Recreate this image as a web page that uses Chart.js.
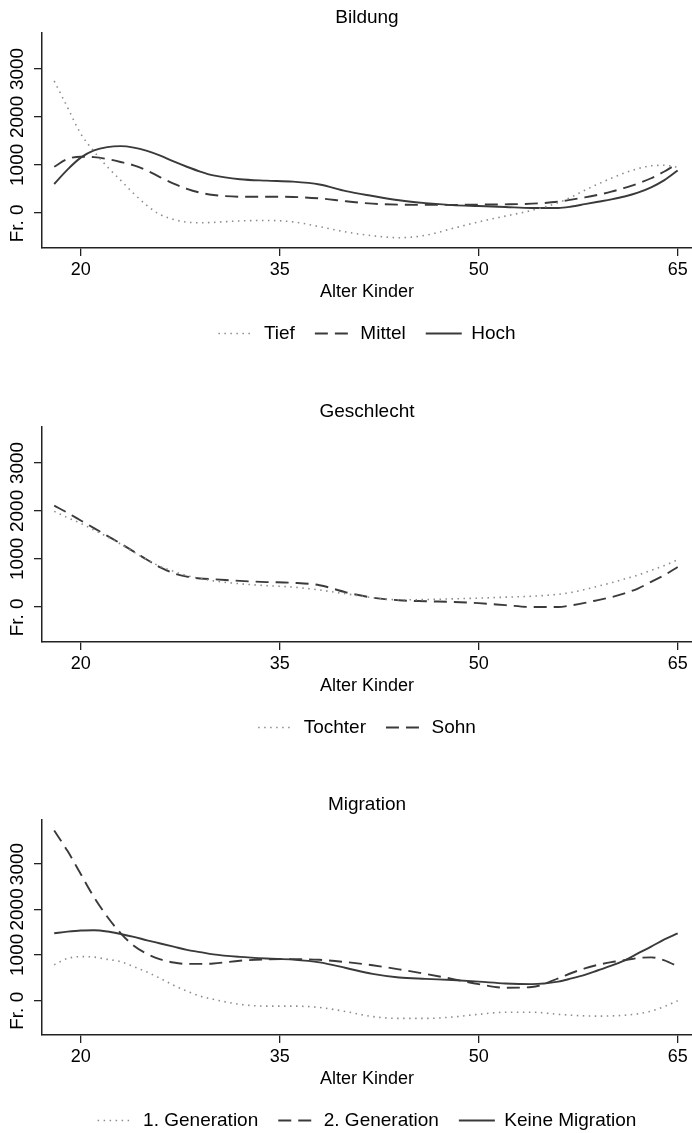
<!DOCTYPE html>
<html>
<head>
<meta charset="utf-8">
<script src="https://cdn.jsdelivr.net/npm/chart.js@4.4.1/dist/chart.umd.min.js"></script>
<style>
  html, body { margin: 0; padding: 0; background: #fff; overflow: hidden; }
  .panel { position: absolute; left: 0; width: 692px; height: 360px; }
</style>
</head>
<body>
<div class="panel" style="top:0px"><canvas id="chartBildung"></canvas></div>
<div class="panel" style="top:394px"><canvas id="chartGeschlecht"></canvas></div>
<div class="panel" style="top:787px"><canvas id="chartMigration"></canvas></div>
<script>
// === DATA ===
var ages = [18, 19, 20, 21, 22, 23, 24, 25, 26, 27, 28, 29, 30, 32, 34, 36, 38, 40, 42, 44, 46, 48,
            50, 52, 54, 56, 57, 58, 59, 60, 61, 62, 63, 64, 65];

var xTickValues = [20, 35, 50, 65];
var yTickValues = [0, 1000, 2000, 3000];
// the "Fr. 0" label sits with its "0" on the tick, hence the trailing spaces
var yTickLabels = ['Fr. 0    ', '1000', '2000', '3000'];

// Bildung
var tief =   [2750, 2200, 1650, 1280, 960, 680, 400, 150, -40, -140, -195, -210, -200, -170, -160, -190, -290, -400, -480, -520, -470, -330,
              -190, -70, 50, 210, 330, 470, 600, 720, 830, 920, 980, 990, 950];
var mittel = [960, 1120, 1170, 1160, 1120, 1060, 990, 880, 740, 610, 500, 420, 370, 335, 335, 330, 300, 240, 190, 170, 165, 165,
              170, 175, 190, 230, 275, 320, 375, 440, 520, 610, 720, 860, 1030];
var hoch =   [600, 900, 1150, 1300, 1370, 1390, 1360, 1290, 1190, 1070, 960, 860, 780, 700, 670, 650, 590, 450, 350, 260, 200, 160,
              140, 120, 100, 100, 130, 180, 230, 280, 340, 420, 530, 680, 880];

// Geschlecht
var tochter = [1990, 1860, 1740, 1600, 1460, 1310, 1140, 980, 840, 740, 650, 590, 540, 480, 440, 410, 350, 270, 190, 145, 150, 165,
               180, 200, 220, 260, 300, 360, 430, 500, 580, 660, 760, 860, 980];
var sohn =    [2110, 1960, 1800, 1640, 1480, 1320, 1150, 980, 820, 700, 630, 590, 575, 540, 515, 500, 450, 300, 190, 135, 115, 100,
               75, 35, -5, -5, 30, 80, 140, 200, 280, 380, 520, 660, 830];

// Migration
var gen1 =   [780, 920, 960, 950, 900, 850, 740, 620, 480, 330, 200, 90, 20, -90, -130, -130, -160, -250, -360, -400, -400, -370,
              -310, -265, -265, -310, -330, -345, -350, -345, -330, -300, -240, -140, -10];
var gen2 =   [3737, 3290, 2780, 2270, 1840, 1480, 1200, 1020, 900, 830, 800, 800, 810, 870, 900, 905, 890, 840, 770, 680, 580, 470,
              355, 275, 290, 480, 600, 700, 780, 840, 880, 930, 945, 880, 745];
var keine =  [1475, 1510, 1535, 1540, 1515, 1460, 1395, 1320, 1250, 1180, 1110, 1060, 1010, 955, 920, 895, 835, 710, 580, 500, 470, 445,
              410, 370, 355, 410, 480, 560, 660, 760, 880, 1030, 1180, 1340, 1475];

// === STYLES ===
var FONT = '"Liberation Sans", Arial, Helvetica, sans-serif';
var LINE = '#3a3a3a';
var DOT = '#8c8c8c';
var STYLE = {
  dot:   { borderColor: DOT,  borderWidth: 1.6, borderDash: [1.5, 4.5] },
  dash:  { borderColor: LINE, borderWidth: 1.9, borderDash: [13, 7] },
  solid: { borderColor: LINE, borderWidth: 1.9, borderDash: [] }
};

Chart.defaults.font.family = FONT;
Chart.defaults.color = '#000';

function toPoints(values) {
  return ages.map(function(a, i) { return { x: a, y: values[i] }; });
}

function makeDataset(label, values, style) {
  return {
    label: label,
    data: toPoints(values),
    borderColor: style.borderColor,
    borderWidth: style.borderWidth,
    borderDash: style.borderDash,
    pointRadius: 0,
    fill: false,
    cubicInterpolationMode: 'monotone'
  };
}

// legend keys take the line style of the dataset (point style would drop the dash)
function lineLegendLabels(chart) {
  var items = Chart.defaults.plugins.legend.labels.generateLabels(chart);
  items.forEach(function(item) {
    var ds = chart.data.datasets[item.datasetIndex];
    item.strokeStyle = ds.borderColor;
    item.lineWidth = ds.borderWidth;
    item.lineDash = ds.borderDash;
    item.fillStyle = 'rgba(0,0,0,0)';
  });
  return items;
}

function makePanel(canvasId, title, datasets, yMin, yMax) {
  return new Chart(document.getElementById(canvasId), {
    type: 'line',
    data: { datasets: datasets },
    options: {
      responsive: true,
      maintainAspectRatio: false,
      animation: false,
      layout: { padding: { left: 0, right: 0, top: 0, bottom: 7 } },
      plugins: {
        tooltip: { enabled: false },
        title: {
          display: true,
          text: title,
          fullSize: false,
          color: '#000',
          font: { size: 19, weight: 'normal' },
          padding: { top: 6, bottom: 4.2 }
        },
        legend: {
          position: 'bottom',
          fullSize: false,
          labels: {
            usePointStyle: true,
            pointStyle: 'line',
            pointStyleWidth: 36,
            padding: 20,
            color: '#000',
            font: { size: 19 },
            generateLabels: lineLegendLabels
          }
        }
      },
      scales: {
        x: {
          type: 'linear',
          min: 17.08,
          max: 66.08,
          afterBuildTicks: function(scale) {
            scale.ticks = xTickValues.map(function(v) { return { value: v }; });
          },
          afterFit: function(scale) { scale.height = 56; },
          ticks: { font: { size: 18 }, color: '#000', padding: 3, maxRotation: 0, autoSkip: false },
          grid: { drawOnChartArea: false, tickLength: 8, color: '#222', lineWidth: 1.3 },
          border: { color: '#222', width: 1.5 },
          title: {
            display: true,
            text: 'Alter Kinder',
            color: '#000',
            font: { size: 18 },
            padding: { top: 0, bottom: 1 }
          }
        },
        y: {
          type: 'linear',
          min: yMin,
          max: yMax,
          afterBuildTicks: function(scale) {
            scale.ticks = yTickValues.map(function(v) { return { value: v }; });
          },
          afterFit: function(scale) { scale.width = 42; },
          ticks: {
            font: { size: 19 },
            color: '#000',
            minRotation: 90,
            maxRotation: 90,
            crossAlign: 'center',
            padding: -13,
            callback: function(v) { return yTickLabels[yTickValues.indexOf(v)]; }
          },
          grid: { drawOnChartArea: false, tickLength: 8, color: '#222', lineWidth: 1.3 },
          border: { color: '#222', width: 1.5 }
        }
      }
    }
  });
}

makePanel('chartBildung', 'Bildung', [
  makeDataset('Tief', tief, STYLE.dot),
  makeDataset('Mittel', mittel, STYLE.dash),
  makeDataset('Hoch', hoch, STYLE.solid)
], -735, 3750);

makePanel('chartGeschlecht', 'Geschlecht', [
  makeDataset('Tochter', tochter, STYLE.dot),
  makeDataset('Sohn', sohn, STYLE.dash)
], -735, 3750);

makePanel('chartMigration', 'Migration', [
  makeDataset('1. Generation', gen1, STYLE.dot),
  makeDataset('2. Generation', gen2, STYLE.dash),
  makeDataset('Keine Migration', keine, STYLE.solid)
], -766, 3970);
</script>
</body>
</html>
